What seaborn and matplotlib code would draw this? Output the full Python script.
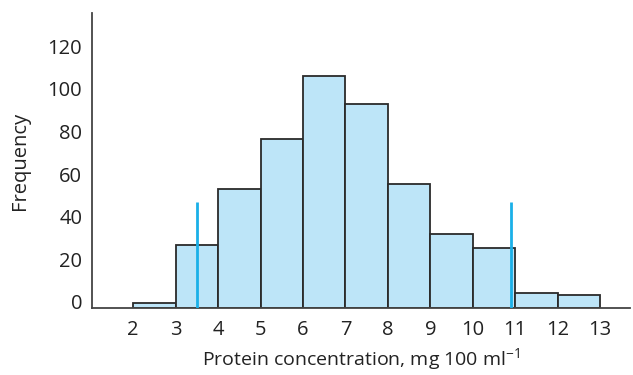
import matplotlib
matplotlib.use("Agg")
import matplotlib.pyplot as plt
import matplotlib.transforms as mtransforms
import seaborn as sb

# Dados
bordas = [2, 3, 4, 5, 6, 7, 8, 9, 10, 11, 12, 13]
frequencias = [2.5, 29.5, 55.6, 79, 109, 95.6, 58, 34.5, 28.1, 7.2, 6.0]
centros = [b + 0.5 for b in bordas[:-1]]
linhas_x = [3.51, 10.9]
linhas_topo = [49.5, 49.5]
ticks_y = [0, 20, 40, 60, 80, 100, 120]
ticks_x = [2, 3, 4, 5, 6, 7, 8, 9, 10, 11, 12, 13]

sb.set_style("white")
plt.rcParams["font.family"] = ["Open Sans", "DejaVu Sans"]
plt.rcParams["mathtext.fontset"] = "custom"
plt.rcParams["mathtext.rm"] = "Open Sans"
plt.rcParams["mathtext.it"] = "Open Sans"

fig = plt.figure(figsize=(6.33, 3.75), dpi=100)
ax = fig.add_axes([0.1453, 0.1787, 0.8497, 0.7866])

sb.histplot(x=centros, weights=frequencias, bins=bordas, stat="count",
            color="#bde5f8", edgecolor="#2a2a2a", linewidth=1.3,
            alpha=1, ax=ax)

ax.vlines(linhas_x, 0, linhas_topo, color="#1ab0e8", linewidth=2, zorder=5)

ax.set_xlim(1.03, 13.7)
ax.set_ylim(0, 138.3)
ax.set_xticks(ticks_x)
ax.set_yticks(ticks_y)
ax.tick_params(axis="both", length=0, labelsize=14.5, colors="#222222")
ax.tick_params(axis="y", pad=7)
ax.tick_params(axis="x", pad=9)

# rótulos do eixo y ficam um pouco acima das posições
desloc = mtransforms.ScaledTranslation(0, 0.06, fig.dpi_scale_trans)
for rotulo in ax.get_yticklabels():
    rotulo.set_transform(rotulo.get_transform() + desloc)

ax.set_xlabel(r"Protein concentration, mg 100 ml$^{-1}$", fontsize=14,
              color="#222222", labelpad=4)
ax.set_ylabel("Frequency", fontsize=14.5, color="#222222", labelpad=13)

for lado in ["top", "right"]:
    ax.spines[lado].set_visible(False)
for lado in ["left", "bottom"]:
    ax.spines[lado].set_color("#444444")
    ax.spines[lado].set_linewidth(1.3)

fig.savefig("out.png", dpi=100)
